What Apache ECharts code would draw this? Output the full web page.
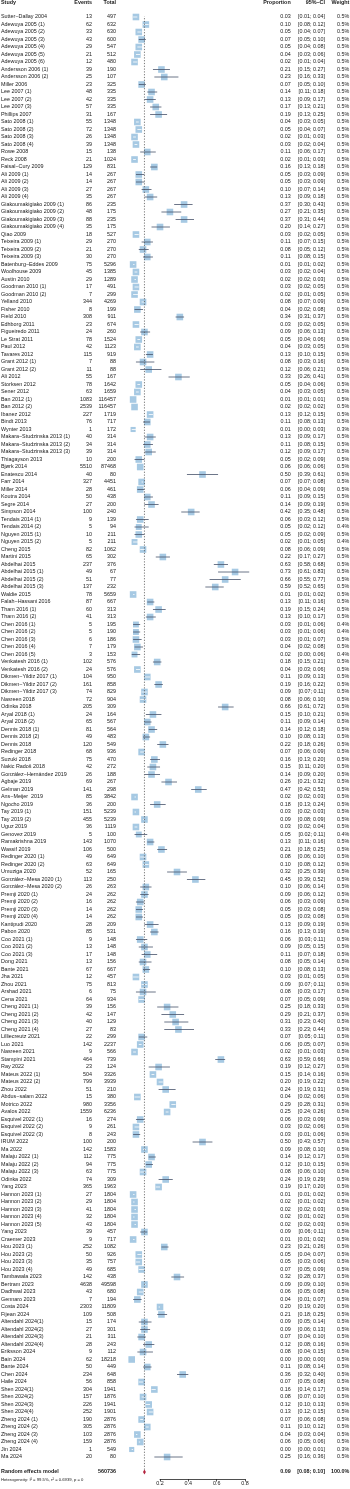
<!DOCTYPE html>
<html>
<head>
<meta charset="utf-8">
<script src="https://cdn.jsdelivr.net/npm/echarts@6/dist/echarts.min.js"></script>
<style>
html, body { margin: 0; padding: 0; background: #fff; }
#chart { width: 350px; height: 1489px; }
</style>
</head>
<body>
<div id="chart"></div>
<script>
// study rows, top to bottom
const studies = [
  'Sutter\u2212Dallay 2004', 'Adewuya 2005 (1)', 'Adewuya 2005 (2)', 'Adewuya 2005 (3)', 'Adewuya 2005 (4)', 'Adewuya 2005 (5)', 'Adewuya 2005 (6)', 'Andersson 2006 (1)', 'Andersson 2006 (2)', 'Miller 2006', 'Lee 2007 (1)', 'Lee 2007 (2)', 'Lee 2007 (3)', 'Phillips 2007', 'Sato 2008 (1)',
  'Sato 2008 (2)', 'Sato 2008 (3)', 'Sato 2008 (4)', 'Rowe 2008', 'Reck 2008', 'Faisal\u2212Cury 2009', 'Ali 2009 (1)', 'Ali 2009 (2)', 'Ali 2009 (3)', 'Ali 2009 (4)', 'Giakoumakigiako 2009 (1)', 'Giakoumakigiako 2009 (2)', 'Giakoumakigiako 2009 (3)', 'Giakoumakigiako 2009 (4)', 'Qiao 2009', 'Teixeira 2009 (1)',
  'Teixeira 2009 (2)', 'Teixeira 2009 (3)', 'Batenburg\u2212Eddes 2009', 'Woolhouse 2009', 'Austin 2010', 'Goodman 2010 (1)', 'Goodman 2010 (2)', 'Yelland 2010', 'Fisher 2010', 'Field 2010', 'Edhborg 2011', 'Figueiredo 2011', 'Le Strat 2011', 'Paul 2012', 'Tavares 2012', 'Grant 2012 (1)', 'Grant 2012 (2)',
  'Ali 2012', 'Storksen 2012', 'Sener 2012', 'Ban 2012 (1)', 'Ban 2012 (2)', 'Ibanez 2012', 'Bindt 2013', 'Wynter 2013', 'Makara\u2212Studzinska 2013 (1)', 'Makara\u2212Studzinska 2013 (2)', 'Makara\u2212Studzinska 2013 (3)', 'Thiagayson 2013', 'Bjørk 2014', 'Enatescu 2014', 'Farr 2014', 'Miller 2014',
  'Koutra 2014', 'Segre 2014', 'Simpson 2014', 'Tendais 2014 (1)', 'Tendais 2014 (2)', 'Nguyen 2015 (1)', 'Nguyen 2015 (2)', 'Cheng 2015', 'Martini 2015', 'Abdelhai 2015', 'Abdelhai 2015 (1)', 'Abdelhai 2015 (2)', 'Abdelhai 2015 (3)', 'Waldie 2015', 'Falah\u2212Hassani 2016', 'Tham 2016 (1)', 'Tham 2016 (2)',
  'Chen 2016 (1)', 'Chen 2016 (2)', 'Chen 2016 (3)', 'Chen 2016 (4)', 'Chen 2016 (5)', 'Venkatesh 2016 (1)', 'Venkatesh 2016 (2)', 'Dikmen\u2212Yildiz 2017 (1)', 'Dikmen\u2212Yildiz 2017 (2)', 'Dikmen\u2212Yildiz 2017 (3)', 'Nasreen 2018', 'Odinka 2018', 'Aryal 2018 (1)', 'Aryal 2018 (2)', 'Dennis 2018 (1)', 'Dennis 2018 (2)',
  'Dennis 2018', 'Redinger 2018', 'Suzuki 2018', 'Nakic Radoš 2018', 'González\u2212Hernández 2019', 'Agbaje 2019', 'Gelman 2019', 'Ans\u2212Meijer  2019', 'Ngocho 2019', 'Tay 2019 (1)', 'Tay 2019 (2)', 'Uguz 2019', 'Genovez 2019', 'Ramakrishna 2019', 'Wassif 2019', 'Redinger 2020 (1)', 'Redinger 2020 (2)',
  'Umuziga 2020', 'González\u2212Mesa 2020 (1)', 'González\u2212Mesa 2020 (2)', 'Premji 2020 (1)', 'Premji 2020 (2)', 'Premji 2020 (3)', 'Premji 2020 (4)', 'Kantipudi 2020', 'Pabon 2020', 'Coo 2021 (1)', 'Coo 2021 (2)', 'Coo 2021 (3)', 'Dong 2021', 'Bante 2021', 'Jha 2021', 'Zhou 2021', 'Arshad 2021',
  'Cena 2021', 'Cheng 2021 (1)', 'Cheng 2021 (2)', 'Cheng 2021 (3)', 'Cheng 2021 (4)', 'Lilliecreutz 2021', 'Luo 2021', 'Nasreen 2021', 'Stampini 2021', 'Ray 2022', 'Mateus 2022 (1)', 'Mateus 2022 (2)', 'Zhou 2022', 'Abdus\u2212salam 2022', 'Motrico 2022', 'Avalos 2022',
  'Esquivel 2022 (1)', 'Esquivel 2022 (2)', 'Esquivel 2022 (3)', 'IRUM 2022', 'Ma 2022', 'Malaju 2022 (1)', 'Malaju 2022 (2)', 'Malaju 2022 (3)', 'Odinka 2022', 'Yang 2023', 'Hannon 2023 (1)', 'Hannon 2023 (2)', 'Hannon 2023 (3)', 'Hannon 2023 (4)', 'Hannon 2023 (5)', 'Yang 2023', 'Craemer 2023',
  'Hou 2023 (1)', 'Hou 2023 (2)', 'Hou 2023 (3)', 'Hou 2023 (4)', 'Tambawala 2023', 'Bertram 2023', 'Dadhwal 2023', 'Gennaro 2023', 'Costa 2024', 'Fijean 2024', 'Altendahl 2024(1)', 'Altendahl 2024(2)', 'Altendahl 2024(3)', 'Altendahl 2024(4)', 'Eriksson 2024', 'Bain 2024',
  'Bante 2024', 'Chen 2024', 'Haile 2024', 'Shen 2024(1)', 'Shen 2024(2)', 'Shen 2024(3)', 'Shen 2024(4)', 'Zheng 2024 (1)', 'Zheng 2024 (2)', 'Zheng 2024 (3)', 'Zheng 2024 (4)', 'Jin 2024', 'Ma 2024'
]
const events = [
  13, 62, 33, 43, 29, 21, 12, 39, 25, 23, 48, 42, 57, 31, 55,
  72, 26, 39, 15, 21, 129, 14, 14, 27, 35, 86, 48, 88, 35, 18, 29,
  21, 30, 75, 45, 29, 17, 7, 344, 8, 308, 23, 24, 78, 42, 115, 7, 11,
  55, 78, 63, 1083, 2539, 227, 76, 1, 40, 34, 39, 10, 5510, 40, 327, 28,
  50, 27, 100, 9, 5, 10, 5, 82, 65, 237, 49, 51, 137, 78, 87, 60, 41,
  5, 5, 6, 7, 3, 102, 24, 104, 161, 74, 72, 205, 24, 65, 81, 49,
  120, 68, 75, 42, 26, 69, 141, 85, 36, 151, 455, 36, 5, 143, 106, 49, 63,
  52, 113, 26, 24, 16, 14, 14, 28, 85, 9, 13, 17, 13, 67, 12, 75, 6,
  64, 39, 42, 40, 27, 22, 142, 9, 464, 23, 504, 799, 51, 15, 980, 1559,
  16, 9, 8, 100, 142, 112, 94, 63, 74, 365, 27, 29, 41, 32, 43, 39, 9,
  252, 50, 35, 49, 142, 4638, 43, 7, 2303, 109, 15, 27, 21, 28, 9, 62,
  50, 234, 56, 304, 157, 226, 252, 190, 305, 103, 159, 1, 20
]
const totals = [
  497, 632, 630, 600, 547, 512, 480, 190, 107, 325, 335, 335, 335, 167, 1348,
  1348, 1348, 1348, 138, 1024, 831, 267, 267, 267, 267, 235, 175, 235, 175, 527, 270,
  270, 270, 5296, 1385, 1289, 491, 299, 4269, 199, 911, 674, 260, 1524, 1123, 919, 88, 88,
  167, 1642, 1659, 116457, 116457, 1719, 717, 172, 314, 314, 314, 200, 87468, 80, 4451, 461,
  438, 200, 240, 139, 94, 211, 211, 1062, 302, 376, 67, 77, 232, 5659, 667, 313, 313,
  195, 190, 186, 179, 153, 576, 576, 950, 858, 829, 904, 309, 164, 567, 564, 483,
  549, 936, 470, 272, 188, 267, 298, 3842, 200, 5239, 5239, 1119, 100, 1070, 500, 649, 649,
  165, 250, 263, 262, 262, 262, 262, 209, 531, 148, 148, 148, 156, 667, 457, 813, 75,
  934, 156, 147, 129, 83, 299, 2237, 566, 739, 124, 3326, 3939, 210, 380, 3356, 6236,
  274, 261, 243, 200, 1583, 775, 775, 775, 309, 1963, 1804, 1804, 1804, 1804, 1804, 457, 717,
  1082, 926, 757, 685, 438, 49598, 680, 194, 11809, 508, 174, 301, 311, 243, 112, 18218,
  449, 648, 858, 1941, 1876, 1941, 1901, 2876, 2876, 2876, 2876, 549, 80
]
const props = [
  0.03, 0.10, 0.05, 0.07, 0.05, 0.04, 0.02, 0.21, 0.23, 0.07, 0.14, 0.13, 0.17, 0.19, 0.04,
  0.05, 0.02, 0.03, 0.11, 0.02, 0.16, 0.05, 0.05, 0.10, 0.13, 0.37, 0.27, 0.37, 0.20, 0.03, 0.11,
  0.08, 0.11, 0.01, 0.03, 0.02, 0.03, 0.02, 0.08, 0.04, 0.34, 0.03, 0.09, 0.05, 0.04, 0.13, 0.08, 0.12,
  0.33, 0.05, 0.04, 0.01, 0.02, 0.13, 0.11, 0.01, 0.13, 0.11, 0.12, 0.05, 0.06, 0.50, 0.07, 0.06,
  0.11, 0.14, 0.42, 0.06, 0.05, 0.05, 0.02, 0.08, 0.22, 0.63, 0.73, 0.66, 0.59, 0.01, 0.13, 0.19, 0.13,
  0.03, 0.03, 0.03, 0.04, 0.02, 0.18, 0.04, 0.11, 0.19, 0.09, 0.08, 0.66, 0.15, 0.11, 0.14, 0.10,
  0.22, 0.07, 0.16, 0.15, 0.14, 0.26, 0.47, 0.02, 0.18, 0.03, 0.09, 0.03, 0.05, 0.13, 0.21, 0.08, 0.10,
  0.32, 0.45, 0.10, 0.09, 0.06, 0.05, 0.05, 0.13, 0.16, 0.06, 0.09, 0.11, 0.08, 0.10, 0.03, 0.09, 0.08,
  0.07, 0.25, 0.29, 0.31, 0.33, 0.07, 0.06, 0.02, 0.63, 0.19, 0.15, 0.20, 0.24, 0.04, 0.29, 0.25,
  0.06, 0.03, 0.03, 0.50, 0.09, 0.14, 0.12, 0.08, 0.24, 0.19, 0.01, 0.02, 0.02, 0.02, 0.02, 0.09, 0.01,
  0.23, 0.05, 0.05, 0.07, 0.32, 0.09, 0.06, 0.04, 0.20, 0.21, 0.09, 0.09, 0.07, 0.12, 0.08, 0.00,
  0.11, 0.36, 0.07, 0.16, 0.08, 0.12, 0.13, 0.07, 0.11, 0.04, 0.06, 0.00, 0.25
]
const lowers = [
  0.01, 0.08, 0.04, 0.05, 0.04, 0.03, 0.01, 0.15, 0.16, 0.05, 0.11, 0.09, 0.13, 0.13, 0.03,
  0.04, 0.01, 0.02, 0.06, 0.01, 0.13, 0.03, 0.03, 0.07, 0.09, 0.30, 0.21, 0.31, 0.14, 0.02, 0.07,
  0.05, 0.08, 0.01, 0.02, 0.02, 0.02, 0.01, 0.07, 0.02, 0.31, 0.02, 0.06, 0.04, 0.03, 0.10, 0.03, 0.06,
  0.26, 0.04, 0.03, 0.01, 0.02, 0.12, 0.08, 0.00, 0.09, 0.08, 0.09, 0.02, 0.06, 0.39, 0.07, 0.04,
  0.09, 0.09, 0.35, 0.03, 0.02, 0.02, 0.01, 0.06, 0.17, 0.58, 0.61, 0.55, 0.52, 0.01, 0.11, 0.15, 0.10,
  0.01, 0.01, 0.01, 0.02, 0.00, 0.15, 0.03, 0.09, 0.16, 0.07, 0.06, 0.61, 0.10, 0.09, 0.12, 0.08,
  0.18, 0.06, 0.13, 0.11, 0.09, 0.21, 0.42, 0.02, 0.13, 0.02, 0.08, 0.02, 0.02, 0.11, 0.18, 0.06, 0.08,
  0.25, 0.39, 0.06, 0.06, 0.03, 0.03, 0.03, 0.09, 0.13, 0.03, 0.05, 0.07, 0.05, 0.08, 0.01, 0.07, 0.03,
  0.05, 0.18, 0.21, 0.23, 0.23, 0.05, 0.05, 0.01, 0.59, 0.12, 0.14, 0.19, 0.19, 0.02, 0.28, 0.24,
  0.03, 0.02, 0.01, 0.43, 0.08, 0.12, 0.10, 0.06, 0.19, 0.17, 0.01, 0.01, 0.02, 0.01, 0.02, 0.06, 0.01,
  0.21, 0.04, 0.03, 0.05, 0.28, 0.09, 0.05, 0.01, 0.19, 0.18, 0.05, 0.06, 0.04, 0.08, 0.04, 0.00,
  0.08, 0.32, 0.05, 0.14, 0.07, 0.10, 0.12, 0.06, 0.10, 0.03, 0.05, 0.00, 0.16
]
const uppers = [
  0.04, 0.12, 0.07, 0.10, 0.08, 0.06, 0.04, 0.27, 0.33, 0.10, 0.18, 0.17, 0.21, 0.25, 0.05,
  0.07, 0.03, 0.04, 0.17, 0.03, 0.18, 0.09, 0.09, 0.14, 0.18, 0.43, 0.35, 0.44, 0.27, 0.05, 0.15,
  0.12, 0.15, 0.02, 0.04, 0.03, 0.05, 0.05, 0.09, 0.08, 0.37, 0.05, 0.13, 0.06, 0.05, 0.15, 0.16, 0.21,
  0.41, 0.06, 0.05, 0.01, 0.02, 0.15, 0.13, 0.03, 0.17, 0.15, 0.17, 0.09, 0.06, 0.61, 0.08, 0.09,
  0.15, 0.19, 0.48, 0.12, 0.12, 0.09, 0.05, 0.09, 0.27, 0.68, 0.83, 0.77, 0.65, 0.02, 0.16, 0.24, 0.17,
  0.06, 0.06, 0.07, 0.08, 0.06, 0.21, 0.06, 0.13, 0.22, 0.11, 0.10, 0.72, 0.21, 0.14, 0.18, 0.13,
  0.26, 0.09, 0.20, 0.20, 0.20, 0.32, 0.53, 0.03, 0.24, 0.03, 0.09, 0.04, 0.11, 0.16, 0.25, 0.10, 0.12,
  0.39, 0.52, 0.14, 0.12, 0.09, 0.08, 0.08, 0.19, 0.19, 0.11, 0.15, 0.18, 0.14, 0.13, 0.05, 0.11, 0.17,
  0.09, 0.33, 0.37, 0.40, 0.44, 0.11, 0.07, 0.03, 0.66, 0.27, 0.16, 0.22, 0.31, 0.06, 0.31, 0.26,
  0.09, 0.06, 0.06, 0.57, 0.10, 0.17, 0.15, 0.10, 0.29, 0.20, 0.02, 0.02, 0.03, 0.02, 0.03, 0.11, 0.02,
  0.26, 0.07, 0.06, 0.09, 0.37, 0.10, 0.08, 0.07, 0.20, 0.25, 0.14, 0.13, 0.10, 0.16, 0.15, 0.00,
  0.14, 0.40, 0.08, 0.17, 0.10, 0.13, 0.15, 0.08, 0.12, 0.04, 0.06, 0.01, 0.36
]
// weight in %
const weights = [
  0.5, 0.5, 0.5, 0.5, 0.5, 0.5, 0.5, 0.5, 0.5, 0.5, 0.5, 0.5, 0.5, 0.5, 0.5,
  0.5, 0.5, 0.5, 0.5, 0.5, 0.5, 0.5, 0.5, 0.5, 0.5, 0.5, 0.5, 0.5, 0.5, 0.5, 0.5,
  0.5, 0.5, 0.5, 0.5, 0.5, 0.5, 0.5, 0.5, 0.5, 0.5, 0.5, 0.5, 0.5, 0.5, 0.5, 0.5, 0.5,
  0.5, 0.5, 0.5, 0.5, 0.5, 0.5, 0.5, 0.3, 0.5, 0.5, 0.5, 0.5, 0.5, 0.5, 0.5, 0.5,
  0.5, 0.5, 0.5, 0.5, 0.4, 0.5, 0.4, 0.5, 0.5, 0.5, 0.5, 0.5, 0.5, 0.5, 0.5, 0.5, 0.5,
  0.4, 0.4, 0.5, 0.5, 0.4, 0.5, 0.5, 0.5, 0.5, 0.5, 0.5, 0.5, 0.5, 0.5, 0.5, 0.5,
  0.5, 0.5, 0.5, 0.5, 0.5, 0.5, 0.5, 0.5, 0.5, 0.5, 0.5, 0.5, 0.4, 0.5, 0.5, 0.5, 0.5,
  0.5, 0.5, 0.5, 0.5, 0.5, 0.5, 0.5, 0.5, 0.5, 0.5, 0.5, 0.5, 0.5, 0.5, 0.5, 0.5, 0.5,
  0.5, 0.5, 0.5, 0.5, 0.5, 0.5, 0.5, 0.5, 0.5, 0.5, 0.5, 0.5, 0.5, 0.5, 0.5, 0.5,
  0.5, 0.5, 0.5, 0.5, 0.5, 0.5, 0.5, 0.5, 0.5, 0.5, 0.5, 0.5, 0.5, 0.5, 0.5, 0.5, 0.5,
  0.5, 0.5, 0.5, 0.5, 0.5, 0.5, 0.5, 0.5, 0.5, 0.5, 0.5, 0.5, 0.5, 0.5, 0.5, 0.5,
  0.5, 0.5, 0.5, 0.5, 0.5, 0.5, 0.5, 0.5, 0.5, 0.5, 0.5, 0.3, 0.5
]
// random effects model
const modelLabel = 'Random effects model'
const modelTotal = 560736
const modelEst = 0.09
const modelCI = [0.08, 0.10]
const modelWeight = 100.0
const hetText = 'Heterogeneity: I\u00b2 = 99.5%, \u03c4\u00b2 = 0.6939, p = 0'
const headers = ['Study', 'Events', 'Total', 'Proportion', '95%\u2212CI', 'Weight']
const xTicks = [0.2, 0.4, 0.6, 0.8]

// layout
const FONT = '"Liberation Sans", Arial, Helvetica, sans-serif'
const FS = 5.4
const ROW_TOP = 17
const ROW_STEP = 7.5
const MODEL_ROW = studies.length + 1
const X0 = 131.7          // pixel of proportion 0
const PX = 141.6          // pixels per unit
const colX = [1, 92, 116, 290.7, 325, 349.3]
const colAlign = ['left', 'right', 'right', 'right', 'right', 'right']
const TXT = '#1a1a1a'
const BOX = '#a6c9e3'
const LINE = '#47536b'
const DIAMOND = '#b3243f'

const f2 = v => v.toFixed(2)
const ciText = (lo, hi) => '[' + f2(lo) + '; ' + f2(hi) + ']'

function txt(s, x, y, align, bold, size) {
  return {
    type: 'text',
    x: x, y: y,
    style: {
      text: String(s),
      fill: TXT,
      font: (bold ? 'bold ' : '') + (size || FS) + 'px ' + FONT,
      align: align, verticalAlign: 'middle',
      textAlign: align, textVerticalAlign: 'middle'
    }
  }
}

const rowData = studies.map((s, i) => [props[i], i, lowers[i], uppers[i], weights[i]])

// table text, one row per study
function renderTable(params, api) {
  const k = params.dataIndex
  const y = api.coord([0, api.value(1)])[1]
  const cells = [studies[k], events[k], totals[k], f2(props[k]), ciText(lowers[k], uppers[k]), weights[k].toFixed(1) + '%']
  return { type: 'group', children: cells.map((c, j) => txt(c, colX[j], y, colAlign[j])) }
}

// square + CI line
function renderForest(params, api) {
  const row = api.value(1)
  const p = api.coord([api.value(0), row])
  const lo = api.coord([api.value(2), row])
  const hi = api.coord([api.value(3), row])
  const s = 6.6 * Math.sqrt(api.value(4) / 0.5)
  const inside = (hi[0] - lo[0]) < s
  return {
    type: 'group',
    children: [
      { type: 'rect', shape: { x: p[0] - s / 2, y: p[1] - s / 2, width: s, height: s }, style: { fill: BOX } },
      { type: 'line', shape: { x1: lo[0], y1: p[1], x2: hi[0], y2: p[1] }, style: { stroke: inside ? '#ffffff' : LINE, lineWidth: 0.8 } }
    ]
  }
}

function renderModel(params, api) {
  const row = api.value(1)
  const c = api.coord([api.value(0), row])
  const lo = api.coord([api.value(2), row])
  const hi = api.coord([api.value(3), row])
  const h = 2.6
  const cells = [modelLabel, modelTotal, f2(modelEst), ciText(modelCI[0], modelCI[1]), modelWeight.toFixed(1) + '%']
  const xs = [colX[0], colX[2], colX[3], colX[4], colX[5]]
  const al = ['left', 'right', 'right', 'right', 'right']
  return {
    type: 'group',
    children: [
      { type: 'polygon', shape: { points: [[lo[0], c[1]], [c[0], c[1] - h], [hi[0], c[1]], [c[0], c[1] + h]] }, style: { fill: DIAMOND } }
    ].concat(cells.map((t, j) => txt(t, xs[j], c[1], al[j], true)))
  }
}

const chart = echarts.init(document.getElementById('chart'), null, { renderer: 'canvas' })

const option = {
  animation: false,
  backgroundColor: '#ffffff',
  grid: [
    { left: X0, width: 0.8 * PX, top: ROW_TOP, height: MODEL_ROW * ROW_STEP },
    { left: X0 + 0.2 * PX, width: 0.6 * PX, top: 1470, height: 9 }
  ],
  xAxis: [
    { gridIndex: 0, type: 'value', min: 0, max: 0.8, show: false },
    {
      gridIndex: 1, type: 'value', min: 0.2, max: 0.8, interval: 0.2,
      axisLine: { show: true, lineStyle: { color: '#222', width: 0.8 } },
      axisTick: { show: true, length: 2.5, lineStyle: { color: '#222', width: 0.8 } },
      axisLabel: { color: TXT, fontSize: FS, fontFamily: FONT, margin: 2.5, formatter: v => xTicks.indexOf(+v.toFixed(1)) >= 0 ? v.toFixed(1) : '' },
      splitLine: { show: false }
    }
  ],
  yAxis: [
    { gridIndex: 0, type: 'value', min: 0, max: MODEL_ROW, inverse: true, show: false },
    { gridIndex: 1, type: 'value', show: false }
  ],
  graphic: headers.map((h, j) => txt(h, colX[j], 3, colAlign[j], true)).concat([
    txt(hetText, 1, 1480, 'left', false, 4.2)
  ]),
  series: [
    {
      // pooled estimate reference line
      type: 'line', xAxisIndex: 0, yAxisIndex: 0, silent: true, symbol: 'none',
      data: [[modelEst, -0.6], [modelEst, MODEL_ROW - 0.3]],
      lineStyle: { color: '#555', width: 0.8, type: [1.2, 1.6] }
    },
    { type: 'custom', xAxisIndex: 0, yAxisIndex: 0, silent: true, clip: false, renderItem: renderTable, data: rowData },
    { type: 'custom', xAxisIndex: 0, yAxisIndex: 0, silent: true, clip: false, renderItem: renderForest, data: rowData },
    { type: 'custom', xAxisIndex: 0, yAxisIndex: 0, silent: true, clip: false, renderItem: renderModel, data: [[modelEst, MODEL_ROW, modelCI[0], modelCI[1]]] }
  ]
}

chart.setOption(option)
window.addEventListener('resize', () => chart.resize())
</script>
</body>
</html>
